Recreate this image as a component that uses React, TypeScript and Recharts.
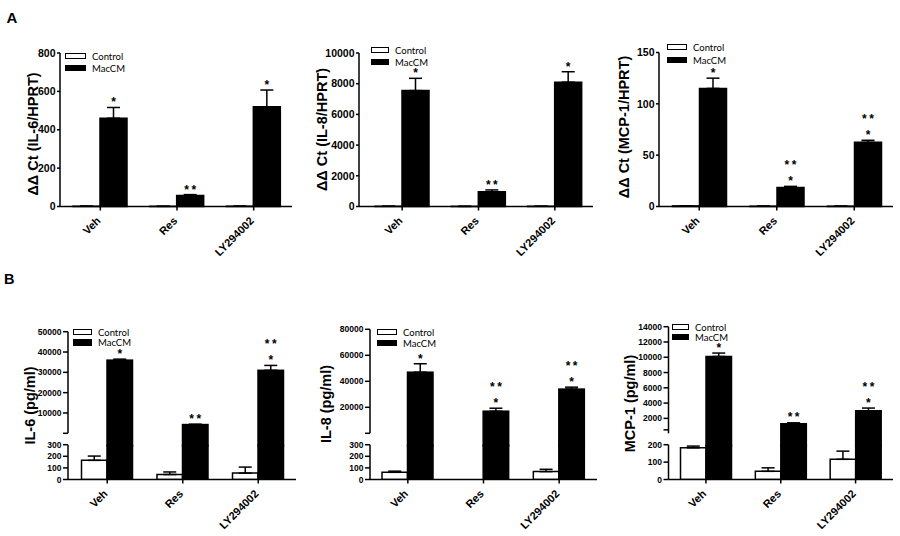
import { Bar, BarChart, ErrorBar, LabelList, Legend, XAxis, YAxis } from 'recharts';

// ---- data ----
const groups = ['Veh', 'Res', 'LY294002'];

// A: mRNA (ΔΔCt)
const aIl6Control = [1.5, 1, 1.5];
const aIl6ControlErr = [0, 0, 0];
const aIl6MacCM = [460, 57, 520];
const aIl6MacCMErr = [56, 5, 87];
const aIl6Stars = [['*'], ['**'], ['*']];
const aIl6Ticks = [0, 200, 400, 600, 800];

const aIl8Control = [15, 10, 15];
const aIl8ControlErr = [0, 0, 0];
const aIl8MacCM = [7550, 960, 8100];
const aIl8MacCMErr = [800, 120, 680];
const aIl8Stars = [['*'], ['**'], ['*']];
const aIl8Ticks = [0, 2000, 4000, 6000, 8000, 10000];

const aMcpControl = [0.6, 0.3, 0.3];
const aMcpControlErr = [0, 0, 0];
const aMcpMacCM = [115, 18.6, 62.5];
const aMcpMacCMErr = [10, 1, 2];
const aMcpStars = [['*'], ['**', '*'], ['**', '*']];
const aMcpTicks = [0, 50, 100, 150];

// B: protein (pg/ml), broken axis
const bIl6Control = [165, 43, 55];
const bIl6ControlErr = [37, 22, 52];
const bIl6MacCM = [36000, 4300, 31000];
const bIl6MacCMErr = [500, 150, 2400];
const bIl6Stars = [['*'], ['**'], ['**', '*']];
const bIl6UpperTicks = [0, 10000, 20000, 30000, 40000, 50000];
const bIl6LowerTicks = [0, 100, 200, 300];

const bIl8Control = [62, 0, 68];
const bIl8ControlErr = [10, 0, 20];
const bIl8MacCM = [47000, 17000, 34000];
const bIl8MacCMErr = [6500, 2300, 1500];
const bIl8Stars = [['*'], ['**', '*'], ['**', '*']];
const bIl8UpperTicks = [0, 20000, 40000, 60000, 80000];
const bIl8LowerTicks = [0, 100, 200, 300];

const bMcpControl = [182, 47, 116];
const bMcpControlErr = [10, 20, 47];
const bMcpMacCM = [10100, 1300, 3000];
const bMcpMacCMErr = [450, 120, 350];
const bMcpStars = [['*'], ['**'], ['**', '*']];
const bMcpUpperTicks = [500, 2000, 4000, 6000, 8000, 10000, 12000, 14000];
const bMcpLowerTicks = [0, 100, 200];

// ---- layout ----
const W = 900;
const H = 536;
const YW = 50;
const XH = 40;
const FONT = '"Liberation Sans", Arial, sans-serif';
const LEGEND_FONT = 'Lato, "Open Sans", sans-serif';
const layer: React.CSSProperties = { position: 'absolute', left: 0, top: 0, width: W, height: H };
const axisStyle = { stroke: '#000', strokeWidth: 1.5 };

function rows(ctrl: number[], ctrlErr: number[], mac: number[], macErr: number[]) {
  return groups.map((name, i) => ({
    name,
    ctrl: ctrl[i],
    ctrlErr: [0, ctrlErr[i]],
    mac: mac[i],
    macErr: [0, macErr[i]],
  }));
}

// slanted category names under the axis
const renderXTick = (props: any) => {
  const { x, y, payload } = props;
  return (
    <text
      transform={`translate(${x + 1},${y + 9}) rotate(-45)`}
      textAnchor="end"
      fontFamily={FONT}
      fontSize={11}
      fontWeight="bold"
      fill="#000"
    >
      {payload.value}
    </text>
  );
};

const starLabel = (stars: string[][], vals: number[], errs: number[], base: number) => (props: any) => {
  const vb = props.viewBox ?? props;
  const i = props.index;
  const h = Math.abs(vb.height);
  const top = Math.min(vb.y, vb.y + vb.height);
  const errTop = top - (errs[i] * h) / (vals[i] - base);
  const cx = vb.x + vb.width / 2;
  const lines = stars[i];
  return (
    <g>
      {lines.map((s, j) => {
        const cy = errTop - 7.5 - (lines.length - 1 - j) * 16;
        const sp = s.length > 1 ? 2.5 : 0;
        return (
          <text
            key={j}
            x={cx + sp / 2}
            y={cy + 6.5}
            textAnchor="middle"
            fontFamily={FONT}
            fontSize={12}
            fontWeight="bold"
            letterSpacing={sp}
            fill="#000"
          >
            {s}
          </text>
        );
      })}
    </g>
  );
};

const legendContent = (rowH: number, boxW: number) => (props: any) => (
  <div style={{ fontFamily: LEGEND_FONT, fontSize: 9.5, color: '#000' }}>
    {(props.payload ?? []).map((p: any, i: number) => (
      <div key={p.value} style={{ display: 'flex', alignItems: 'center', height: rowH, whiteSpace: 'nowrap' }}>
        <span
          style={{
            display: 'inline-block',
            boxSizing: 'border-box',
            width: boxW,
            height: 6.5,
            border: '1.3px solid #000',
            background: (p.dataKey ?? (i === 0 ? 'ctrl' : 'mac')) === 'ctrl' ? '#fff' : '#000',
            marginRight: 6,
          }}
        />
        {p.value}
      </div>
    ))}
  </div>
);

const yLabel = (text: string, cx: number, cy: number) => () => (
  <text
    transform={`translate(${cx},${cy}) rotate(-90)`}
    textAnchor="middle"
    dominantBaseline="central"
    fontFamily={FONT}
    fontSize={14.5}
    fontWeight="bold"
    fill="#000"
  >
    {text}
  </text>
);

type SingleProps = {
  left: number; right: number; top: number; bottom: number; padL: number;
  data: any[]; ticks: number[]; stars: string[][]; mac: number[]; macErr: number[];
  label: string; labelX: number; labelY: number;
  legendX: number; legendY: number; legendRow: number; legendBox: number;
};

function SinglePanel(p: SingleProps) {
  return (
    <div style={layer}>
      <BarChart
        width={W}
        height={H}
        data={p.data}
        barGap={0}
        margin={{ top: p.top, right: W - p.right, bottom: H - p.bottom - XH, left: p.left - YW }}
      >
        <XAxis
          dataKey="name"
          height={XH}
          interval={0}
          padding={{ left: p.padL, right: 0 }}
          tickSize={4}
          axisLine={axisStyle}
          tickLine={axisStyle}
          tick={renderXTick}
        />
        <YAxis
          width={YW}
          domain={[p.ticks[0], p.ticks[p.ticks.length - 1]]}
          ticks={p.ticks}
          interval={0}
          tickSize={3}
          tickMargin={1.5}
          axisLine={axisStyle}
          tickLine={axisStyle}
          tick={{ fontFamily: FONT, fontSize: 10.5, fontWeight: 'bold', fill: '#000' }}
          label={{ content: yLabel(p.label, p.labelX, p.labelY) }}
        />
        <Legend
          layout="vertical"
          align="center"
          verticalAlign="middle"
          wrapperStyle={{ left: p.legendX, top: p.legendY - p.legendRow / 2, width: 'auto' }}
          content={legendContent(p.legendRow, p.legendBox)}
        />
        <Bar dataKey="ctrl" name="Control" barSize={27} fill="#fff" stroke="#000" strokeWidth={1.5} isAnimationActive={false}>
          <ErrorBar dataKey="ctrlErr" width={6.5} stroke="#000" strokeWidth={1.5} isAnimationActive={false} />
        </Bar>
        <Bar dataKey="mac" name="MacCM" barSize={27} fill="#000" stroke="#000" strokeWidth={1.5} isAnimationActive={false}>
          <ErrorBar dataKey="macErr" width={6.5} stroke="#000" strokeWidth={1.5} isAnimationActive={false} />
          <LabelList dataKey="name" content={starLabel(p.stars, p.mac, p.macErr, 0)} />
        </Bar>
      </BarChart>
    </div>
  );
}

type BrokenProps = {
  left: number; right: number; upperTop: number; upperBottom: number; lowerTop: number; lowerBottom: number;
  padL: number; data: any[]; upperTicks: number[]; lowerTicks: number[];
  stars: string[][]; mac: number[]; macErr: number[];
  label: string; labelX: number; labelY: number;
  legendX: number; legendY: number; legendRow: number; legendBox: number;
};

function BrokenPanel(p: BrokenProps) {
  const base = p.upperTicks[0];
  const gap = p.lowerTop - p.upperBottom + 1;
  // upper segment bar continues down through the axis break
  const brokenBar = (props: any) => {
    const { x, y, width, height } = props;
    if (!height) return <g />;
    return <rect x={x} y={y} width={width} height={height + gap} fill="#000" stroke="#000" strokeWidth={1.5} />;
  };
  const tickProps = { fontFamily: FONT, fontSize: 8.5, fontWeight: 'bold', fill: '#000' };
  return (
    <>
      <div style={layer}>
        <BarChart
          width={W}
          height={H}
          data={p.data}
          barGap={0}
          margin={{ top: p.upperTop, right: W - p.right, bottom: H - p.upperBottom, left: p.left - YW }}
        >
          <XAxis dataKey="name" hide padding={{ left: p.padL, right: 0 }} />
          <YAxis
            width={YW}
            domain={[base, p.upperTicks[p.upperTicks.length - 1]]}
            ticks={p.upperTicks}
            interval={0}
            tickSize={5}
            tickMargin={1.5}
            axisLine={axisStyle}
            tickLine={axisStyle}
            tick={tickProps}
            tickFormatter={(v: number) => (v === base ? '' : String(v))}
          />
          <Legend
            layout="vertical"
            align="center"
            verticalAlign="middle"
            wrapperStyle={{ left: p.legendX, top: p.legendY - p.legendRow / 2, width: 'auto' }}
            content={legendContent(p.legendRow, p.legendBox)}
          />
          <Bar dataKey="ctrl" name="Control" barSize={25.5} fill="none" stroke="none" isAnimationActive={false} />
          <Bar dataKey="mac" name="MacCM" barSize={25.5} fill="#000" shape={brokenBar} isAnimationActive={false}>
            <ErrorBar dataKey="macErr" width={6.5} stroke="#000" strokeWidth={1.5} isAnimationActive={false} />
            <LabelList dataKey="name" content={starLabel(p.stars, p.mac, p.macErr, base)} />
          </Bar>
        </BarChart>
      </div>
      <div style={layer}>
        <BarChart
          width={W}
          height={H}
          data={p.data}
          barGap={0}
          margin={{ top: p.lowerTop, right: W - p.right, bottom: H - p.lowerBottom - XH, left: p.left - YW }}
        >
          <XAxis
            dataKey="name"
            height={XH}
            interval={0}
            padding={{ left: p.padL, right: 0 }}
            tickSize={4}
            axisLine={axisStyle}
            tickLine={axisStyle}
            tick={renderXTick}
          />
          <YAxis
            width={YW}
            domain={[0, p.lowerTicks[p.lowerTicks.length - 1]]}
            allowDataOverflow
            ticks={p.lowerTicks}
            interval={0}
            tickSize={5}
            tickMargin={1.5}
            axisLine={axisStyle}
            tickLine={axisStyle}
            tick={tickProps}
            label={{ content: yLabel(p.label, p.labelX, p.labelY) }}
          />
          <Bar dataKey="ctrl" name="Control" barSize={25.5} fill="#fff" stroke="#000" strokeWidth={1.5} isAnimationActive={false}>
            <ErrorBar dataKey="ctrlErr" width={6.5} stroke="#000" strokeWidth={1.5} isAnimationActive={false} />
          </Bar>
          <Bar dataKey="mac" name="MacCM" barSize={25.5} fill="#000" stroke="#000" strokeWidth={1.5} isAnimationActive={false} />
        </BarChart>
      </div>
    </>
  );
}

export default function App() {
  return (
    <div style={{ position: 'absolute', left: 0, top: 0, width: W, height: H, background: '#fff' }}>
      <SinglePanel
        left={60} right={292} top={53} bottom={206.5} padL={2}
        data={rows(aIl6Control, aIl6ControlErr, aIl6MacCM, aIl6MacCMErr)}
        ticks={aIl6Ticks} stars={aIl6Stars} mac={aIl6MacCM} macErr={aIl6MacCMErr}
        label="ΔΔ Ct (IL-6/HPRT)" labelX={33} labelY={134}
        legendX={65} legendY={56} legendRow={12} legendBox={21}
      />
      <SinglePanel
        left={359} right={593} top={53} bottom={206.5} padL={5}
        data={rows(aIl8Control, aIl8ControlErr, aIl8MacCM, aIl8MacCMErr)}
        ticks={aIl8Ticks} stars={aIl8Stars} mac={aIl8MacCM} macErr={aIl8MacCMErr}
        label="ΔΔ Ct (IL-8/HPRT)" labelX={322} labelY={129.5}
        legendX={371} legendY={50} legendRow={12} legendBox={18}
      />
      <SinglePanel
        left={659} right={893} top={52.5} bottom={206.5} padL={1.5}
        data={rows(aMcpControl, aMcpControlErr, aMcpMacCM, aMcpMacCMErr)}
        ticks={aMcpTicks} stars={aMcpStars} mac={aMcpMacCM} macErr={aMcpMacCMErr}
        label="ΔΔ Ct (MCP-1/HPRT)" labelX={624} labelY={127}
        legendX={667} legendY={47} legendRow={13} legendBox={20}
      />
      <BrokenPanel
        left={68} right={296} upperTop={331.7} upperBottom={433.3} lowerTop={444.7} lowerBottom={479.5} padL={1.5}
        data={rows(bIl6Control, bIl6ControlErr, bIl6MacCM, bIl6MacCMErr)}
        upperTicks={bIl6UpperTicks} lowerTicks={bIl6LowerTicks}
        stars={bIl6Stars} mac={bIl6MacCM} macErr={bIl6MacCMErr}
        label="IL-6 (pg/ml)" labelX={30} labelY={405.5}
        legendX={73} legendY={332} legendRow={10.5} legendBox={19}
      />
      <BrokenPanel
        left={370} right={597} upperTop={329.3} upperBottom={433.3} lowerTop={444.7} lowerBottom={479.5} padL={0}
        data={rows(bIl8Control, bIl8ControlErr, bIl8MacCM, bIl8MacCMErr)}
        upperTicks={bIl8UpperTicks} lowerTicks={bIl8LowerTicks}
        stars={bIl8Stars} mac={bIl8MacCM} macErr={bIl8MacCMErr}
        label="IL-8 (pg/ml)" labelX={326} labelY={404}
        legendX={377} legendY={332} legendRow={11} legendBox={20}
      />
      <BrokenPanel
        left={668.5} right={893} upperTop={326.7} upperBottom={433.3} lowerTop={444.7} lowerBottom={479.5} padL={0}
        data={rows(bMcpControl, bMcpControlErr, bMcpMacCM, bMcpMacCMErr)}
        upperTicks={bMcpUpperTicks} lowerTicks={bMcpLowerTicks}
        stars={bMcpStars} mac={bMcpMacCM} macErr={bMcpMacCMErr}
        label="MCP-1 (pg/ml)" labelX={630} labelY={403.5}
        legendX={672} legendY={327} legendRow={10} legendBox={17}
      />
      <svg width={W} height={H} style={{ position: 'absolute', left: 0, top: 0, pointerEvents: 'none' }}>
        <text x={6.5} y={23.3} fontFamily={FONT} fontSize={15} fontWeight="bold" fill="#000">A</text>
        <text x={4} y={284} fontFamily={FONT} fontSize={14.5} fontWeight="bold" fill="#000">B</text>
      </svg>
    </div>
  );
}
